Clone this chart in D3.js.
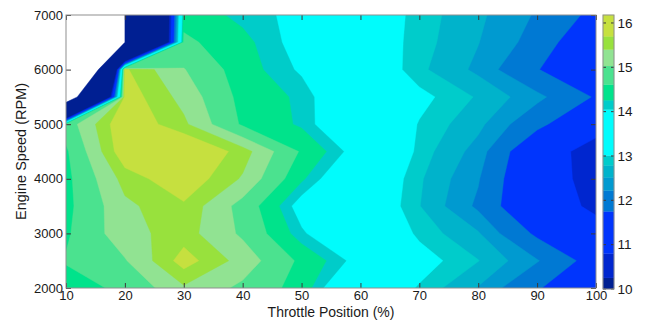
<!DOCTYPE html>
<html>
<head>
<meta charset="utf-8">
<script src="https://cdn.jsdelivr.net/npm/d3@7"></script>
<style>
  body { margin: 0; background: #fff; }
  text { font-family: "Liberation Sans", Arial, sans-serif; fill: #1a1a1a; }
</style>
</head>
<body>
<svg id="chart" width="647" height="321"></svg>
<script>
// ---------------- data ----------------
const throttle = [10, 20, 30, 40, 50, 60, 70, 80, 90, 100];          // %
const rpm = [2000, 2500, 3000, 3500, 4000, 4500, 5000, 5500, 6000, 6500, 7000];
// air-fuel ratio per rpm row (columns follow `throttle`);
// strongly negative entries mark the unmapped top-left corner
const afr2000 = [14.45, 14.69, 15.35, 14.94, 14.44, 13.38, 12.98, 12.50, 11.80, 11.20];
const afr2500 = [14.64, 15.00, 15.85, 15.26, 14.52, 13.90, 13.15, 12.80, 12.25, 11.50];
const afr3000 = [14.55, 15.28, 15.55, 14.96, 14.10, 13.50, 12.95, 12.55, 11.65, 11.00];
const afr3500 = [14.50, 15.32, 15.65, 14.88, 13.88, 13.45, 12.80, 12.15, 11.10, 10.70];
const afr4000 = [14.50, 15.53, 15.95, 15.36, 14.31, 13.50, 12.83, 12.25, 11.10, 10.60];
const afr4500 = [14.55, 15.95, 16.14, 15.56, 14.56, 13.85, 12.92, 12.40, 11.20, 10.50];
const afr5000 = [14.80, 16.00, 15.47, 14.55, 14.21, 13.50, 12.99, 12.60, 11.90, 11.10];
const afr5500 = [-7.45, 15.90, 15.28, 14.48, 14.20, 13.50, 13.10, 12.76, 12.32, 11.70];
const afr6000 = [-25.9, 15.75, 15.05, 14.40, 14.00, 13.40, 12.85, 12.45, 11.77, 11.30];
const afr6500 = [-45.0, -3.00, 14.70, 14.35, 13.90, 13.30, 12.90, 12.53, 12.07, 11.18];
const afr7000 = [-45.0, -3.00, 14.45, 14.18, 13.95, 13.30, 12.92, 12.58, 12.18, 11.60];
const afrRows = [afr2000, afr2500, afr3000, afr3500, afr4000, afr4500,
                 afr5000, afr5500, afr6000, afr6500, afr7000];

// contour levels (lower edge of each filled band) and band colours
const levels = [-3, 10.25, 10.8, 11.75, 12.22, 12.52, 12.79, 13.01, 14.05, 14.26, 14.61, 15.03, 15.40, 15.70];
const bandColors = ["#001f92", "#0026cf", "#0035fd", "#0079d3", "#009ad0", "#00b3cb", "#00cccb",
                    "#00fcfc", "#00ccc9", "#00e38b", "#4be28f", "#91e392", "#98e13d", "#c6e03f"];

const xTicks = [10, 20, 30, 40, 50, 60, 70, 80, 90, 100];
const yTicks = [2000, 3000, 4000, 5000, 6000, 7000];
const cbTicks = [10, 11, 12, 13, 14, 15, 16];
const cbRange = [10, 16.18];

// ---------------- layout ----------------
const plot = { left: 66, right: 596, top: 15, bottom: 288 };
const cbBox = { left: 603, right: 614, top: 15, bottom: 289 };

const svg = d3.select("#chart");
const x = d3.scaleLinear().domain([throttle[0], throttle[throttle.length - 1]]).range([plot.left, plot.right]);
const y = d3.scaleLinear().domain([rpm[0], rpm[rpm.length - 1]]).range([plot.bottom, plot.top]);

// ---------------- contours ----------------
const n = throttle.length, m = rpm.length;
const values = afrRows.flat();
const contours = d3.contours().size([n, m]).thresholds(levels)(values);
const stepX = throttle[1] - throttle[0], stepY = rpm[1] - rpm[0];
const gridToScreen = d3.geoTransform({
  point(px, py) {
    this.stream.point(x(throttle[0] + (px - 0.5) * stepX), y(rpm[0] + (py - 0.5) * stepY));
  }
});
const path = d3.geoPath(gridToScreen);

svg.append("defs").append("clipPath").attr("id", "plotClip")
  .append("rect")
  .attr("x", plot.left).attr("y", plot.top)
  .attr("width", plot.right - plot.left).attr("height", plot.bottom - plot.top);

svg.append("rect")
  .attr("x", plot.left).attr("y", plot.top)
  .attr("width", plot.right - plot.left).attr("height", plot.bottom - plot.top)
  .attr("fill", "#fff");

svg.append("g").attr("clip-path", "url(#plotClip)")
  .selectAll("path").data(contours).join("path")
  .attr("d", path)
  .attr("fill", (d, i) => bandColors[i])
  .attr("stroke", (d, i) => bandColors[i])
  .attr("stroke-width", 0.4);

// ---------------- axes ----------------
function styleAxis(g) {
  g.select(".domain").remove();
  g.selectAll(".tick line").attr("stroke", "#3a3a3a");
  g.selectAll(".tick text").style("font-size", "13px").attr("fill", "#1a1a1a");
}
const fmt = d3.format("d");

svg.append("g").attr("transform", `translate(0,${plot.bottom})`)
  .call(d3.axisBottom(x).tickValues(xTicks).tickFormat(fmt).tickSizeInner(-5).tickSizeOuter(0).tickPadding(3))
  .call(styleAxis);
svg.append("g").attr("transform", `translate(0,${plot.top})`)
  .call(d3.axisTop(x).tickValues(xTicks).tickSizeInner(-5).tickSizeOuter(0).tickFormat(() => ""))
  .call(styleAxis);
svg.append("g").attr("transform", `translate(${plot.left},0)`)
  .call(d3.axisLeft(y).tickValues(yTicks).tickFormat(fmt).tickSizeInner(-5).tickSizeOuter(0).tickPadding(3))
  .call(styleAxis);
svg.append("g").attr("transform", `translate(${plot.right},0)`)
  .call(d3.axisRight(y).tickValues(yTicks).tickSizeInner(-5).tickSizeOuter(0).tickFormat(() => ""))
  .call(styleAxis);

svg.append("rect")
  .attr("x", plot.left).attr("y", plot.top)
  .attr("width", plot.right - plot.left).attr("height", plot.bottom - plot.top)
  .attr("fill", "none").attr("stroke", "#8f8f8f").attr("stroke-width", 1);

// axis titles
svg.append("text")
  .attr("x", (plot.left + plot.right) / 2).attr("y", 316.5)
  .attr("text-anchor", "middle").style("font-size", "14px")
  .text("Throttle Position (%)");
svg.append("text")
  .attr("transform", `translate(25.5,${(plot.top + plot.bottom) / 2}) rotate(-90)`)
  .attr("text-anchor", "middle").style("font-size", "14.5px")
  .text("Engine Speed (RPM)");

// ---------------- colour bar ----------------
const cb = d3.scaleLinear().domain(cbRange).range([cbBox.bottom, cbBox.top]);
const cbBands = levels.map((lo, i) => ({
  lo: Math.max(lo, cbRange[0]),
  hi: Math.min(i + 1 < levels.length ? levels[i + 1] : cbRange[1], cbRange[1]),
  color: bandColors[i]
})).filter(b => b.hi > b.lo);

svg.append("g").selectAll("rect").data(cbBands).join("rect")
  .attr("x", cbBox.left).attr("width", cbBox.right - cbBox.left)
  .attr("y", d => cb(d.hi)).attr("height", d => cb(d.lo) - cb(d.hi))
  .attr("fill", d => d.color).attr("stroke", d => d.color).attr("stroke-width", 0.3);

const cbAxis = svg.append("g");
cbAxis.selectAll("line.l").data(cbTicks).join("line")
  .attr("x1", cbBox.left).attr("x2", cbBox.left + 3)
  .attr("y1", d => cb(d)).attr("y2", d => cb(d)).attr("stroke", "#3a3a3a");
cbAxis.selectAll("line.r").data(cbTicks).join("line")
  .attr("x1", cbBox.right - 3).attr("x2", cbBox.right)
  .attr("y1", d => cb(d)).attr("y2", d => cb(d)).attr("stroke", "#3a3a3a");
cbAxis.selectAll("text").data(cbTicks).join("text")
  .attr("x", cbBox.right + 3.5).attr("y", d => cb(d)).attr("dy", "0.35em")
  .style("font-size", "13.5px").text(d => d);

svg.append("rect")
  .attr("x", cbBox.left).attr("y", cbBox.top)
  .attr("width", cbBox.right - cbBox.left).attr("height", cbBox.bottom - cbBox.top)
  .attr("fill", "none").attr("stroke", "#8f8f8f").attr("stroke-width", 1);
</script>
</body>
</html>
